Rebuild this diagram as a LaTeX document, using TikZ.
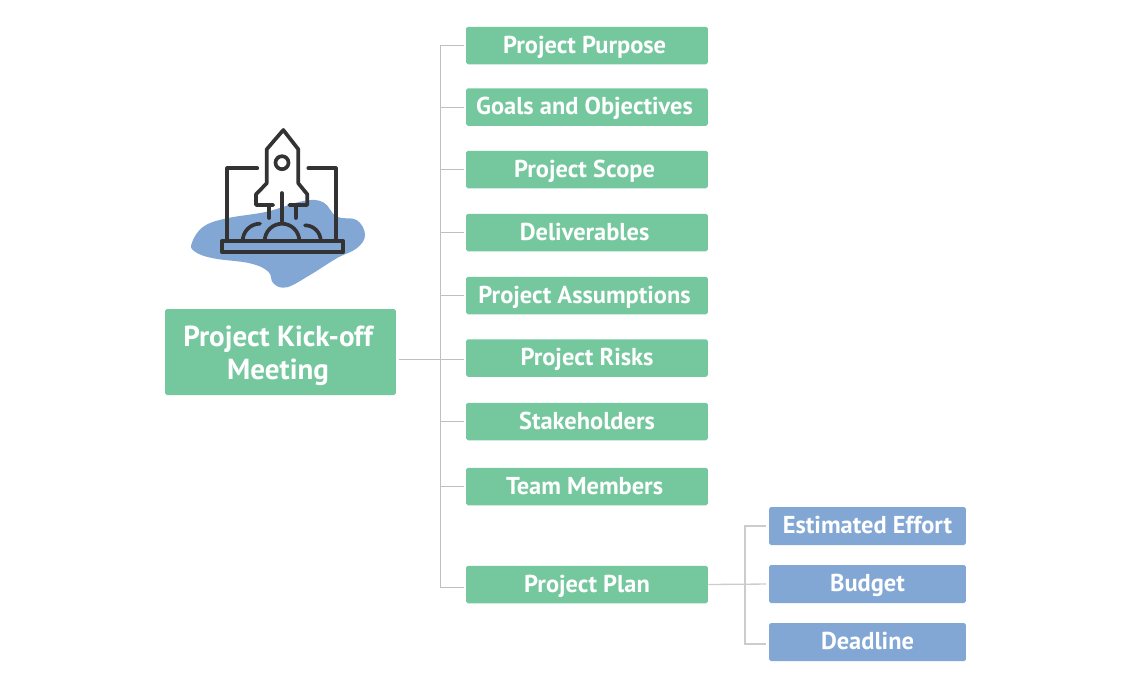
\documentclass[tikz,border=0pt]{standalone}
\usepackage{fontspec}
\setmainfont{PT Sans}
\usepackage{tikz}
\usetikzlibrary{positioning, calc}

\definecolor{topicgreen}{HTML}{75C89E}
\definecolor{planblue}{HTML}{82A7D4}
\definecolor{iconink}{HTML}{333333}

\tikzset{
	topicbox/.style={fill=topicgreen, text=white, rounded corners=1pt, minimum width=4.84cm, minimum height=0.75cm, inner sep=0pt, text height=10pt, text depth=1pt, font=\fontsize{13.9}{16}\selectfont\bfseries},
	planbox/.style={fill=planblue, text=white, rounded corners=1pt, minimum width=3.94cm, minimum height=0.76cm, inner sep=0pt, text height=10pt, text depth=1pt, font=\fontsize{13.9}{16}\selectfont\bfseries},
	rootbox/.style={fill=topicgreen, text=white, rounded corners=1pt, minimum width=4.62cm, minimum height=1.72cm, inner sep=0pt, align=center, text height=35pt, text depth=3.5pt, font=\fontsize{16.5}{18.8}\selectfont\bfseries},
	nudged/.style={execute at begin node=\kern-2.8pt},
	link/.style={draw=black!25, line width=0.55pt, shorten >=1pt},
	sublink/.style={draw=black!20, line width=0.75pt, shorten >=1.5pt},
	icon/.style={draw=iconink, line width=2.1pt, line join=round, line cap=round}
}

\begin{document}
\begin{tikzpicture}[x=0.02cm, y=-0.02cm]
	\useasboundingbox (0, 0) rectangle (1145, 687);
	
	% Blob behind the rocket
	\fill[planblue] plot[smooth cycle, tension=0.65] coordinates {(191.7,243.3) (203.3,226.7) (226.7,218.3) (266.7,211.7) (303.3,201) (323.3,202.3) (336.7,216.7) (356.7,220) (365,235) (356.7,248.3) (336.7,258.3) (310,275) (286.7,287.3) (273.3,283.3) (268.3,271.7) (250,263.3) (213.3,258.3) (195,251.7)};
	
	% Rocket
	\draw[icon] (273.3,205) -- (256,205) -- (256,194.3) -- (266.7,183.3) -- (266.7,149.3) -- (283.3,130) -- (298.3,149.3) -- (298.3,183.3) -- (307.3,194.3) -- (307.3,205) -- (289.3,205);
	\draw[icon] (282,162.7) circle (6.5);
	\draw[icon] (269.3,205) -- (269.3,218);
	\draw[icon] (295.7,205) -- (295.7,218);
	\draw[icon] (281.7,193) -- (281.7,222);
	
	% Launch frame and base
	\draw[icon] (257.3,168.3) -- (227.3,168.3) -- (227.3,241);
	\draw[icon] (308.3,168.3) -- (335.7,168.3) -- (335.7,241);
	\draw[icon] (221.7,241) rectangle (343.3,252.3);
	\draw[icon] (264.7,241) arc[start angle=180, end angle=360, radius=17.3];
	\draw[icon] (242.7,241) arc[start angle=180, end angle=270, radius=17.3];
	\draw[icon] (305,225.3) arc[start angle=270, end angle=360, radius=15.7];
	
	% Main topic
	\node[rootbox] (root) at (280.5, 352) {Project Kick-off\kern2.8pt\\Meeting\kern2.8pt};
	
	% Topics
	\node[topicbox, nudged] (purpose) at (587, 45.5) {Project Purpose};
	\node[topicbox, nudged] (goals) at (587, 107) {Goals and Objectives};
	\node[topicbox, nudged] (scope) at (587, 169.5) {Project Scope};
	\node[topicbox, nudged] (deliverables) at (587, 232.5) {Deliverables};
	\node[topicbox, nudged] (assumptions) at (587, 295.5) {Project Assumptions};
	\node[topicbox] (risks) at (587, 358) {Project Risks};
	\node[topicbox] (stakeholders) at (587, 421.5) {Stakeholders};
	\node[topicbox, nudged] (members) at (587, 486.5) {Team Members};
	\node[topicbox] (plan) at (587, 584.5) {Project Plan};
	
	% Plan details
	\node[planbox] (effort) at (867.5, 526) {Estimated Effort};
	\node[planbox] (budget) at (867.5, 584) {Budget};
	\node[planbox] (deadline) at (867.5, 642) {Deadline};
	
	% Connectors
	\coordinate (trunk) at (440, 359);
	\coordinate (subtrunk) at (745, 584);
	\draw[link] ($(root.east |- risks)+(3,1)$) -- ($(risks.west)+(0,1)$);
	\foreach \topic in {purpose, goals, scope, deliverables, assumptions, stakeholders, members}
		\draw[link] (trunk) |- (\topic.west);
	\draw[link] (trunk) |- ($(plan.west)+(0,2.5)$);
	\draw[sublink] (plan.east) -- (budget.west);
	\draw[sublink] (subtrunk) |- (effort.west);
	\draw[sublink] (subtrunk) |- ($(deadline.west)+(0,2)$);
	
\end{tikzpicture}
\end{document}
